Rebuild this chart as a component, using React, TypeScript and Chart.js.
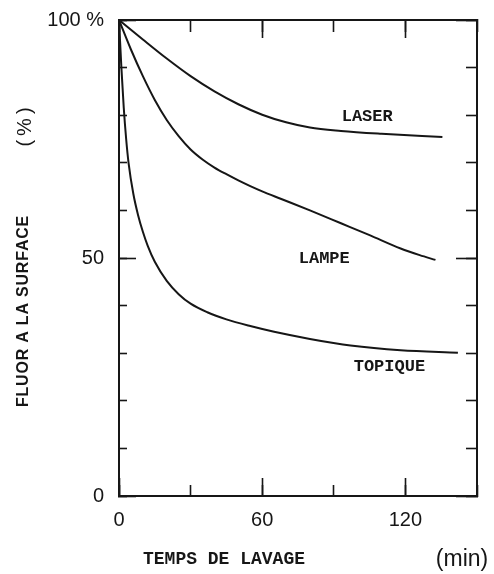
import React, { useEffect, useRef } from "react";
import { Chart, registerables } from "chart.js";

Chart.register(...registerables);

// Temps de lavage (min) and fluor à la surface (%)
const laserT = [0, 10, 20, 30, 40, 50, 60, 70, 80, 93, 110, 135.5];
const laserV = [100, 95.9, 91.9, 88.2, 85, 82.3, 80.1, 78.5, 77.4, 76.7, 76.1, 75.4];

const lampeT = [0, 5, 10, 15, 20, 25, 30, 35, 40, 45, 50, 55, 60, 68, 80, 93, 105, 118, 126, 132.6];
const lampeV = [100, 93.8, 88.2, 83.2, 79, 75.6, 72.8, 70.7, 69, 67.6, 66.3, 65.1, 64, 62.4, 60, 57.3, 54.8, 52, 50.6, 49.6];

const topiqueT = [0, 1, 2, 3, 4, 6, 8, 10, 12, 15, 20, 25, 30, 37, 45, 55, 65, 80, 97, 118, 142];
const topiqueV = [100, 90, 81.5, 75, 70, 63.5, 59, 55.5, 52.6, 49.2, 45.2, 42.4, 40.4, 38.6, 37.1, 35.7, 34.5, 33, 31.6, 30.6, 30.1];

const seriesNames = ["LASER", "LAMPE", "TOPIQUE"];
const yTickLabels: Record<number, string> = { 0: "0", 50: "50", 100: "100 %" };
const xTickLabels: Record<number, string> = { 0: "0", 60: "60", 120: "120" };
const yTitle = "FLUOR A LA SURFACE";
const yUnit = "(%)";
const xTitle = "TEMPS DE LAVAGE";
const xUnit = "(min)";

const INK = "#161616";

const pts = (t: number[], v: number[]) => t.map((x, i) => ({ x, y: v[i] }));

const fixSize = (size: number) => (s: any) => {
  if (s.isHorizontal()) s.height = size;
  else s.width = size;
  s.paddingLeft = 0;
  s.paddingRight = 0;
  s.paddingTop = 0;
  s.paddingBottom = 0;
};

const axis = (
  position: string,
  horizontal: boolean,
  step: number,
  tickLength: number,
  labels: Record<number, string> | null,
  padding: number,
  size: number,
  weight: number
) => ({
  type: "linear",
  position,
  weight,
  min: 0,
  max: horizontal ? 150 : 100,
  afterFit: fixSize(size),
  afterBuildTicks: (s: any) => {
    const out = [];
    for (let v = s.min; v <= s.max + 1e-6; v += step) out.push({ value: v });
    s.ticks = out;
  },
  ticks: {
    display: !!labels,
    autoSkip: false,
    maxRotation: 0,
    padding,
    color: INK,
    font: { family: "'Liberation Sans', Arial, sans-serif", size: 20 },
    callback: (v: number) => (labels ? labels[v] ?? "" : ""),
  },
  grid: {
    drawOnChartArea: false,
    drawTicks: true,
    tickLength,
    tickWidth: 1.6,
    tickColor: INK,
  },
  border: { display: true, color: INK, width: 2 },
});

const textPlugin = {
  id: "texts",
  afterDraw(chart: any) {
    const { ctx } = chart;
    const xs = chart.scales.x;
    const ys = chart.scales.y;
    ctx.save();
    ctx.fillStyle = INK;
    ctx.textAlign = "center";
    ctx.textBaseline = "middle";
    ctx.font = "bold 17px 'Liberation Mono', 'Courier New', monospace";
    const labelPos = [
      [104, 79.7],
      [86, 49.8],
      [113.3, 27.1],
    ];
    seriesNames.forEach((n, i) => {
      ctx.fillText(n, xs.getPixelForValue(labelPos[i][0]), ys.getPixelForValue(labelPos[i][1]));
    });
    // x title
    ctx.font = "bold 18px 'Liberation Mono', 'Courier New', monospace";
    ctx.fillText(xTitle, 224, 559);
    ctx.font = "23px 'Liberation Sans', Arial, sans-serif";
    ctx.fillText(xUnit, 462, 560);
    // y title
    ctx.save();
    ctx.translate(24, 311);
    ctx.rotate(-Math.PI / 2);
    ctx.font = "bold 16px 'Liberation Sans', Arial, sans-serif";
    (ctx as any).letterSpacing = "0.8px";
    ctx.fillText(yTitle, 0, 0);
    ctx.restore();
    ctx.save();
    ctx.translate(25, 125);
    ctx.rotate(-Math.PI / 2);
    ctx.font = "20px 'Liberation Sans', Arial, sans-serif";
    (ctx as any).letterSpacing = "4px";
    ctx.fillText(yUnit, 0, 0);
    ctx.restore();
    ctx.restore();
  },
};

export default function App() {
  const ref = useRef<HTMLCanvasElement>(null);
  useEffect(() => {
    if (!ref.current) return;
    const ds = (data: any) => ({
      data,
      borderColor: INK,
      borderWidth: 2,
      pointRadius: 0,
      fill: false,
      cubicInterpolationMode: "monotone",
      xAxisID: "x",
      yAxisID: "y",
    });
    const chart = new Chart(ref.current, {
      type: "line",
      data: {
        datasets: [
          { label: seriesNames[0], ...ds(pts(laserT, laserV)) },
          { label: seriesNames[1], ...ds(pts(lampeT, lampeV)) },
          { label: seriesNames[2], ...ds(pts(topiqueT, topiqueV)) },
        ],
      } as any,
      options: {
        animation: false,
        responsive: false,
        devicePixelRatio: 1,
        layout: { padding: { left: 0, top: 20, right: 17, bottom: 0 } },
        plugins: { legend: { display: false }, tooltip: { enabled: false } },
        scales: {
          // bottom: ascending weight, first is innermost
          xm: axis("bottom", true, 30, -11, null, 0, 0, 0),
          x: axis("bottom", true, 60, -18, xTickLabels, 30, 78, 1),
          xt: axis("top", true, 60, -18, null, 0, 0, 0),
          xtm: axis("top", true, 30, -12, null, 0, 0, 0),
          // left: descending weight, first is outermost
          y: axis("left", false, 50, -17, yTickLabels, 32, 119, 2),
          ym: axis("left", false, 10, -8, null, 0, 0, 1),
          yr: axis("right", false, 50, -21, null, 0, 0, 0),
          yrm: axis("right", false, 10, -11, null, 0, 0, 0),
        } as any,
      },
      plugins: [textPlugin],
    });
    return () => chart.destroy();
  }, []);
  return (
    <div style={{ position: "absolute", left: 0, top: 0, width: 494, height: 574, background: "#fff" }}>
      <canvas ref={ref} width={494} height={574} />
    </div>
  );
}
